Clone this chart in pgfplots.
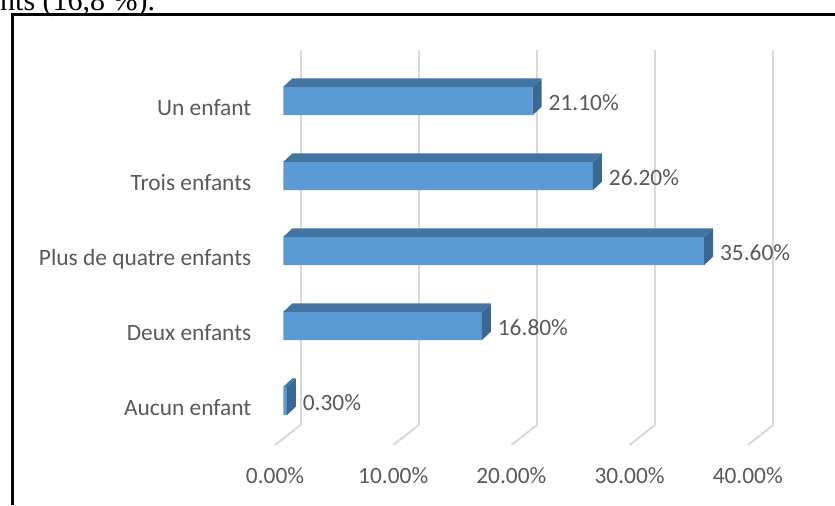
\documentclass[border=0pt]{standalone}
\usepackage{pgfplots}
\pgfplotsset{compat=1.18}
\usepackage{fontspec}
\setmainfont{Carlito}
\newfontfamily\serifbody{Liberation Serif}
\definecolor{barfront}{HTML}{5B9BD5}
\definecolor{bartop}{HTML}{4374A2}
\definecolor{barside}{HTML}{3C6792}
\definecolor{txt}{HTML}{595959}
\definecolor{gridc}{HTML}{D9D9D9}
\def\lbl{\fontsize{11.7}{14}\selectfont}
% top and side faces of a bar, drawn at the end of the bar (5.91pt per percent)
\pgfdeclareplotmark{depth}{%
  \pgfmathsetmacro\barlen{\rawx*5.91}%
  \pgfsetfillcolor{barside}%
  \pgfpathmoveto{\pgfqpoint{0pt}{-7.075pt}}%
  \pgfpathlineto{\pgfqpoint{0pt}{7.075pt}}%
  \pgfpathlineto{\pgfqpoint{4.5pt}{11.325pt}}%
  \pgfpathlineto{\pgfqpoint{4.5pt}{-2.825pt}}%
  \pgfpathclose
  \pgfusepath{fill}%
  \pgfsetfillcolor{bartop}%
  \pgfpathmoveto{\pgfqpoint{-\barlen pt}{7.075pt}}%
  \pgfpathlineto{\pgfqpoint{0pt}{7.075pt}}%
  \pgfpathlineto{\pgfqpoint{4.5pt}{11.325pt}}%
  \pgfpathlineto{\pgfpoint{-\barlen pt+4.5pt}{11.325pt}}%
  \pgfpathclose
  \pgfusepath{fill}%
}
\begin{document}
\begin{tikzpicture}
% 1px = 0.5pt, origin at the top left corner
\path[use as bounding box] (0,0) rectangle (417.5pt,-252.5pt);
\clip (0,0) rectangle (417.5pt,-252.5pt);
\node[anchor=base east, inner sep=0pt, font=\serifbody\fontsize{15}{18}\selectfont]
  at (77.8pt,-5pt) {enfants (16,8~\%).};
\draw[line width=1.4pt] (6.25pt,-252.5pt) -- (6.25pt,-7.35pt) -- (417.5pt,-7.35pt);
\begin{axis}[
  at={(141.65pt,-219.25pt)}, anchor=south west,
  scale only axis, width=236.4pt, height=187.5pt,
  clip=false,
  xmin=0, xmax=40, ymin=-0.5, ymax=4.5,
  axis line style={draw=none},
  tick style={draw=none},
  xtick={0,10,20,30,40},
  xticklabel={\pgfmathprintnumber[assume math mode=true,fixed,fixed zerofill,precision=2]{\tick}\%},
  xticklabel style={anchor=base, inner sep=0pt, xshift=-4.15pt, yshift=-22.4pt, font=\lbl, text=txt},
  ytick={0,1,2,3,4},
  yticklabels={Aucun enfant, Deux enfants, Plus de quatre enfants, Trois enfants, Un enfant},
  yticklabel style={anchor=base east, inner sep=0pt, xshift=-15.8pt, yshift=-7.3pt, font=\lbl, text=txt},
  xmajorgrids,
  major grid style={draw=gridc, line width=1pt, xshift=8.6pt, yshift=6.75pt},
  bar width=0.377,
]
\pgfplotsinvokeforeach{0,10,20,30,40}{
  \draw[gridc, line width=1pt] ([xshift=8.6pt,yshift=6.75pt]axis cs:#1,-0.5) -- ++(-12.75pt,-10pt);
}
% depth faces
\addplot[only marks, mark=depth, visualization depends on={x \as \rawx}]
  coordinates {(0.3,0) (16.8,1) (35.6,2) (26.2,3) (21.1,4)};
% front faces
\addplot[xbar, bar shift=0pt, fill=barfront, draw=none,
  point meta=x,
  nodes near coords={\pgfmathprintnumber[assume math mode=true,fixed,fixed zerofill,precision=2]{\pgfplotspointmeta}\%},
  nodes near coords style={anchor=base west, inner sep=0pt, xshift=7.8pt, yshift=-4.5pt, font=\lbl, text=txt}]
  coordinates {(0.3,0) (16.8,1) (35.6,2) (26.2,3) (21.1,4)};
\end{axis}
\end{tikzpicture}
\end{document}
